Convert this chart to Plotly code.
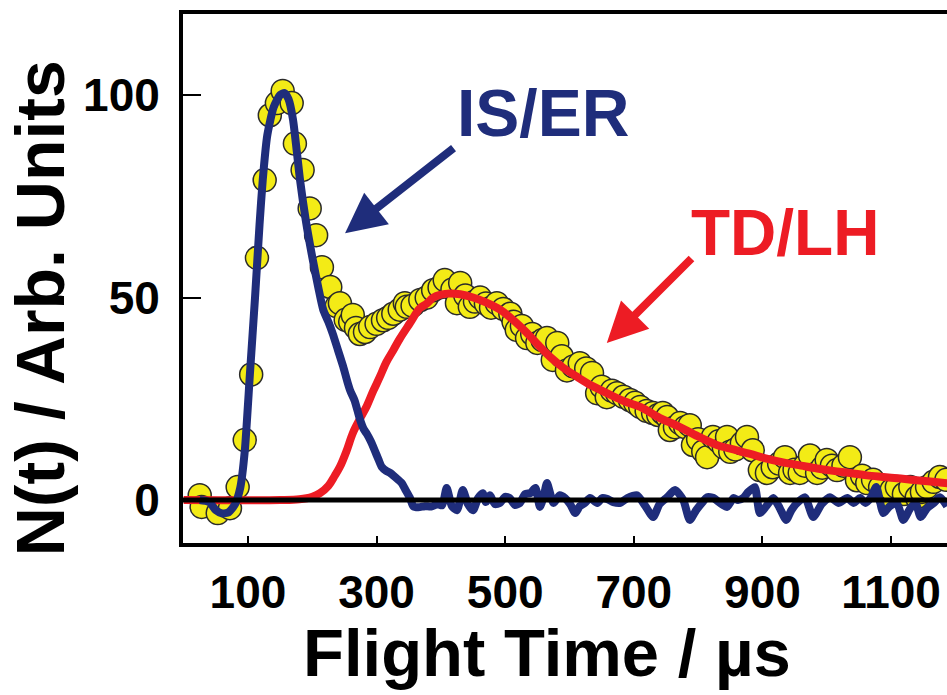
import plotly.graph_objects as go

# Measured data points (yellow circles): flight time (us), N(t)
t_data = [25, 28, 53, 72, 84, 95, 105, 114, 126, 134, 145, 154, 168, 173, 185, 196, 206, 215,
          228, 238, 243, 252, 259, 263, 268, 274, 282, 290, 300, 310, 318, 326, 336, 344, 347,
          356, 368, 378, 388, 398, 406, 418, 425, 430, 438, 445, 453, 461, 470, 478, 487, 497,
          508, 513, 518, 526, 534, 542, 550, 558, 565, 574, 581, 588, 596, 606, 616, 626, 635,
          643, 650, 658, 666, 674, 684, 694, 702, 710, 720, 730, 738, 745, 752, 756, 764, 772,
          780, 787, 792, 800, 808, 814, 823, 832, 840, 845, 850, 858, 868, 876, 885, 896, 907,
          916, 926, 935, 943, 950, 958, 966, 974, 985, 993, 1000, 1008, 1016, 1026, 1036, 1047,
          1055, 1063, 1072, 1083, 1094, 1101, 1109, 1120, 1130, 1140, 1148, 1156, 1166, 1176, 1186]
n_data = [1.2, -1.7, -3.2, -2.0, 3.2, 14.8, 31.0, 59.8, 79.0, 95.0, 98.0, 101.0, 98.0, 88.0, 81.5,
          72.0, 65.4, 57.5, 52.6, 47.9, 48.6, 44.5, 44.0, 45.7, 42.5, 41.0, 41.5, 42.7, 43.5, 44.4,
          45.0, 46.0, 47.0, 48.6, 47.7, 48.0, 49.4, 50.0, 51.8, 52.5, 54.3, 52.0, 48.6, 53.6, 50.5,
          47.7, 49.0, 50.0, 48.5, 47.5, 48.6, 47.2, 46.0, 44.0, 42.0, 43.0, 40.0, 41.0, 38.8, 39.5,
          40.0, 34.6, 38.8, 35.5, 32.0, 33.0, 33.8, 32.5, 31.4, 26.4, 28.0, 25.4, 27.0, 26.4, 25.5,
          24.7, 24.0, 23.0, 22.0, 21.5, 21.0, 21.5, 20.5, 17.3, 18.0, 19.0, 18.0, 18.5, 13.6, 15.0,
          12.0, 10.6, 15.6, 14.5, 13.0, 15.6, 11.9, 12.5, 14.0, 15.6, 12.3, 7.4, 6.7, 8.1, 9.0,
          10.6, 6.7, 7.5, 6.7, 8.5, 11.0, 6.7, 8.0, 9.9, 8.5, 7.4, 8.5, 10.6, 4.9, 6.0, 4.2, 5.0,
          3.2, 0.7, 2.5, 3.2, 1.5, 3.2, 0.7, 2.0, 3.2, 4.5, 5.7, 5.0]

# IS/ER component (blue)
t_is = [25, 40, 50, 60, 70, 80, 88, 95, 103, 111, 118, 123, 130, 140, 150, 157, 163, 170, 176,
        181, 190, 200, 210, 217, 225, 232, 240, 248, 255, 259, 266, 274, 280, 285, 291, 297, 303,
        308, 315, 321, 330, 339, 345, 352, 357, 365, 375, 385, 395, 402, 409, 417, 425, 434, 442,
        450, 458, 465, 470, 476, 484, 492, 500, 507, 515, 523, 531, 539, 547, 554, 560, 565, 575,
        585, 593, 601, 609, 616, 624, 632, 643, 651, 658, 668, 679, 690, 705, 718, 730, 740, 752,
        764, 777, 787, 797, 806, 814, 824, 834, 845, 855, 862, 870, 878, 888, 896, 906, 917, 927,
        937, 945, 954, 966, 979, 992, 1005, 1018, 1032, 1042, 1052, 1060, 1068, 1077, 1088, 1098,
        1109, 1119, 1130, 1138, 1146, 1156, 1166, 1176, 1187]
n_is = [0.0, -0.5, -2.5, -3.3, -3.0, -1.0, 3.0, 12.0, 31.0, 50.0, 68.0, 79.0, 90.0, 97.0, 100.0,
        100.5, 99.0, 94.0, 86.0, 79.0, 69.0, 60.0, 52.0, 47.0, 44.0, 41.0, 37.0, 33.0, 29.0, 27.0,
        24.5, 20.0, 17.5, 16.3, 14.5, 12.3, 10.0, 8.2, 7.2, 6.7, 5.5, 4.2, 2.5, 0.5, -1.5, -1.8,
        -1.5, -1.6, -1.0, -1.3, 3.0, -1.5, -2.5, 2.5, -1.0, -2.5, 0.5, 1.7, -0.5, 1.2, -1.0, -0.7,
        0.8, 0.5, -1.2, -0.7, 1.5, 1.7, 3.0, -1.7, 1.0, 4.2, -0.7, 1.2, 0.5, -1.0, -3.2, -1.5,
        -0.7, 0.5, -0.7, 0.5, 0.3, -0.5, -0.7, 0.5, 1.2, -1.5, -4.2, -1.0, 0.7, 2.5, 0.0, -4.9,
        -2.5, -0.7, 0.7, 0.5, -0.7, -1.7, 0.5, 0.0, 0.5, 2.0, 3.2, -3.2, -1.5, 0.5, -2.0, -4.9,
        -2.5, -0.7, 0.7, -4.2, -1.0, 0.7, -0.7, 0.5, -0.7, 0.5, -0.7, 0.5, 3.2, -3.2, -1.5, -0.7,
        -4.9, -2.0, -0.7, -4.2, -2.0, -0.8, 0.7, -1.5, -0.7, -1.7]

# TD/LH component (red)
t_td = [0, 150, 180, 200, 212, 225, 235, 243, 253, 263, 274, 285, 295, 305, 315, 326, 336, 352,
        367, 378, 388, 400, 414, 430, 450, 470, 492, 512, 534, 550, 570, 590, 612, 635, 658, 685,
        710, 740, 767, 800, 829, 855, 881, 905, 932, 960, 985, 1010, 1036, 1062, 1088, 1115, 1140,
        1165, 1190]
n_td = [0.0, 0.0, 0.2, 0.8, 1.7, 3.5, 6.0, 8.2, 12.0, 16.5, 20.0, 23.3, 27.0, 30.4, 34.0, 37.0,
        39.8, 43.7, 47.3, 48.5, 50.0, 50.7, 51.0, 50.8, 50.0, 48.8, 47.0, 44.5, 41.2, 38.5, 35.3,
        32.7, 30.4, 28.2, 26.4, 24.4, 23.0, 20.3, 18.4, 15.7, 13.6, 12.5, 11.4, 10.3, 9.3, 8.5,
        7.8, 7.2, 6.7, 6.1, 5.7, 5.3, 4.9, 4.5, 4.1]

x_ticks = [100, 300, 500, 700, 900, 1100]
y_ticks = [0, 50, 100]

NAVY = "#1f2d7b"
RED = "#ed1c24"
FONT = "Liberation Sans, Arial, sans-serif"

fig = go.Figure()
fig.add_trace(go.Scatter(x=t_data, y=n_data, mode="markers",
                         marker=dict(size=23, color="#f3eb16",
                                     line=dict(color="#2a2a2a", width=1.5))))
fig.add_trace(go.Scatter(x=t_td, y=n_td, mode="lines",
                         line=dict(color=RED, width=8, shape="spline")))
fig.add_trace(go.Scatter(x=t_is, y=n_is, mode="lines",
                         line=dict(color=NAVY, width=8, shape="spline", smoothing=0.6)))

fig.add_shape(type="line", xref="paper", yref="y", x0=0, x1=1, y0=0, y1=0,
              line=dict(color="black", width=5), layer="above")

fig.update_layout(
    width=947, height=695,
    margin=dict(l=183, r=0, t=14, b=152),
    plot_bgcolor="white", paper_bgcolor="white",
    showlegend=False,
    font=dict(family=FONT, color="black", weight="bold"),
)
fig.update_xaxes(range=[-1, 1187], tickvals=x_ticks, ticks="inside", ticklen=7, tickwidth=2,
                 tickcolor="black", showline=True, linewidth=4, linecolor="black", mirror=True,
                 showgrid=False, zeroline=False,
                 tickfont=dict(family=FONT, size=46, weight="bold", color="black"),
                 ticklabelstandoff=6)
fig.update_yaxes(range=[-10.6, 120], tickvals=y_ticks, ticks="inside", ticklen=18, tickwidth=2,
                 tickcolor="black", showline=True, linewidth=4, linecolor="black", mirror=False,
                 showgrid=False, zeroline=False,
                 tickfont=dict(family=FONT, size=46, weight="bold", color="black"),
                 ticklabelstandoff=10)

fig.add_annotation(text="Flight Time / µs", xref="paper", yref="paper", x=0.476, y=-0.207,
                   xanchor="center", yanchor="middle", showarrow=False,
                   font=dict(family=FONT, size=67, weight="bold", color="black"))
fig.add_annotation(text="N(t) / Arb. Units", xref="paper", yref="paper", x=-0.187, y=0.444,
                   xanchor="center", yanchor="middle", textangle=-90, showarrow=False,
                   font=dict(family=FONT, size=68, weight="bold", color="black"))

fig.add_annotation(text="IS/ER", xref="x", yref="y", x=559, y=95.6, showarrow=False,
                   xanchor="center", yanchor="middle",
                   font=dict(family=FONT, size=66, weight="bold", color=NAVY))
fig.add_annotation(text="TD/LH", xref="x", yref="y", x=935, y=65.9, showarrow=False,
                   xanchor="center", yanchor="middle",
                   font=dict(family=FONT, size=64, weight="bold", color=RED))

fig.add_annotation(text="", xref="x", yref="y", x=251, y=65.9, axref="x", ayref="y",
                   ax=422, ay=87.2, showarrow=True, arrowhead=2, arrowsize=1.0,
                   arrowwidth=8, arrowcolor=NAVY, standoff=0)
fig.add_annotation(text="", xref="x", yref="y", x=658, y=38.8, axref="x", ayref="y",
                   ax=792, ay=60, showarrow=True, arrowhead=2, arrowsize=1.0,
                   arrowwidth=8, arrowcolor=RED, standoff=0)

fig.write_html("out.html")
